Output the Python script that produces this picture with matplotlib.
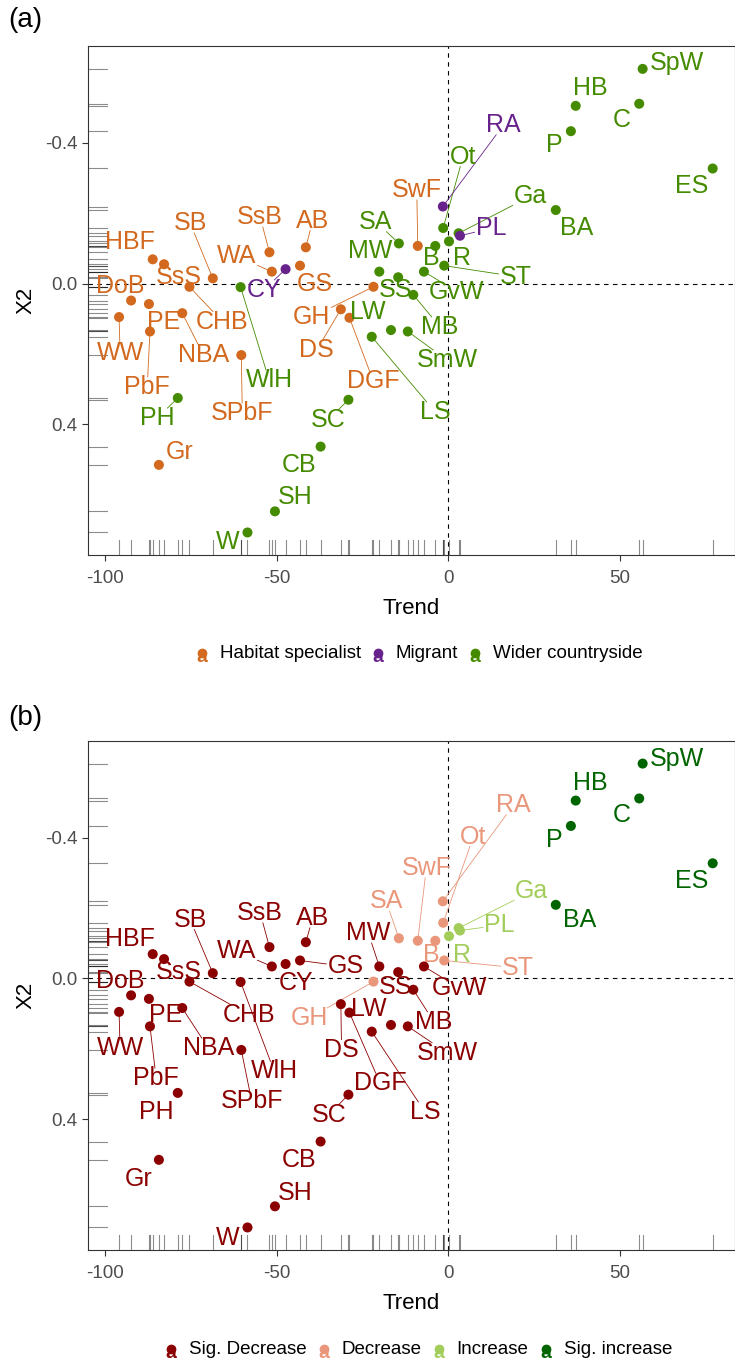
import matplotlib.pyplot as plt
from matplotlib.lines import Line2D

plt.rcParams['font.family'] = ['Liberation Sans', 'DejaVu Sans']
plt.rcParams['axes.unicode_minus'] = False

# species codes, trend, second axis score
species = ["HBF", "SsS", "SB", "CHB", "DoB", "PE", "WW", "PbF", "NBA", "SPbF",
           "PH", "Gr", "W", "SH", "CB", "SC", "SsB", "AB", "WA", "CY",
           "GS", "WlH", "DS", "DGF", "LS", "LW", "SmW", "GH", "SA", "MW",
           "SS", "MB", "GvW", "SwF", "B", "ST", "R", "Ot", "RA", "Ga",
           "PL", "BA", "P", "HB", "C", "SpW", "ES"]
trend = [-86.1, -82.8, -68.6, -75.4, -92.4, -87.2, -95.9, -86.9, -77.5, -60.3,
         -78.8, -84.3, -58.5, -50.5, -37.2, -29.1, -52.1, -41.5, -51.4, -47.4,
         -43.2, -60.5, -31.3, -28.8, -22.3, -16.7, -11.8, -21.8, -14.4, -20.1,
         -14.6, -10.2, -7.1, -8.9, -3.8, -1.2, 0.2, -1.5, -1.6, 3.0,
         3.4, 31.3, 35.7, 37.1, 55.6, 56.6, 77.0]
x2 = [-0.069, -0.055, -0.015, 0.009, 0.048, 0.058, 0.095, 0.136, 0.084, 0.203,
      0.325, 0.515, 0.707, 0.647, 0.463, 0.330, -0.089, -0.103, -0.034, -0.041,
      -0.051, 0.010, 0.073, 0.097, 0.151, 0.132, 0.136, 0.009, -0.114, -0.034,
      -0.018, 0.032, -0.034, -0.107, -0.107, -0.051, -0.120, -0.158, -0.219, -0.143,
      -0.136, -0.209, -0.433, -0.505, -0.511, -0.610, -0.327]

habitat = ["HBF", "SsS", "SB", "CHB", "DoB", "PE", "WW", "PbF", "NBA", "SPbF",
           "Gr", "SsB", "AB", "WA", "GS", "DS", "DGF", "GH", "SwF"]
migrant = ["CY", "RA", "PL"]
group = ["Habitat specialist" if s in habitat else "Migrant" if s in migrant
         else "Wider countryside" for s in species]

decrease = ["GH", "SA", "SwF", "B", "ST", "Ot", "RA"]
increase = ["R", "Ga", "PL"]
sig_increase = ["BA", "P", "HB", "C", "SpW", "ES"]
status = ["Decrease" if s in decrease else "Increase" if s in increase
          else "Sig. increase" if s in sig_increase else "Sig. Decrease" for s in species]

group_order = ["Habitat specialist", "Migrant", "Wider countryside"]
group_cols = {"Habitat specialist": "#D2691E", "Migrant": "#68228B",
              "Wider countryside": "#458B00"}
status_order = ["Sig. Decrease", "Decrease", "Increase", "Sig. increase"]
status_cols = {"Sig. Decrease": "#8B0000", "Decrease": "#E9967A",
               "Increase": "#A2CD5A", "Sig. increase": "#006400"}

# where the (repelled) labels sit, in data units
labels_a = {
    "HBF": (-92.6, -0.118), "SB": (-75.2, -0.172), "SsB": (-54.8, -0.189), "AB": (-39.5, -0.179),
    "WA": (-61.6, -0.077), "SsS": (-78.6, -0.020), "GS": (-38.9, 0.0), "CY": (-53.7, 0.018),
    "DoB": (-95.6, 0.006), "SA": (-21.1, -0.176), "MW": (-22.8, -0.094), "SS": (-15.3, 0.018),
    "SpW": (66.6, -0.626), "HB": (41.3, -0.555), "C": (50.5, -0.465), "P": (30.9, -0.394),
    "ES": (70.8, -0.276), "RA": (16.1, -0.451), "Ot": (4.3, -0.361), "SwF": (-9.2, -0.266),
    "Ga": (23.9, -0.248), "BA": (37.4, -0.157), "PL": (12.4, -0.157), "B": (-5.0, -0.072),
    "R": (4.1, -0.072), "ST": (19.6, -0.020), "GvW": (2.5, 0.023), "CHB": (-65.8, 0.108),
    "PE": (-82.8, 0.108), "WW": (-95.6, 0.198), "NBA": (-71.3, 0.203), "PbF": (-87.7, 0.293),
    "WlH": (-52.2, 0.274), "SPbF": (-60.0, 0.368), "PH": (-84.8, 0.382), "Gr": (-78.2, 0.479),
    "GH": (-39.8, 0.095), "LW": (-23.4, 0.081), "DS": (-38.3, 0.188), "DGF": (-21.8, 0.278),
    "SC": (-35.0, 0.387), "CB": (-43.5, 0.515), "SH": (-44.6, 0.605), "W": (-64.4, 0.735),
    "LS": (-3.9, 0.364), "MB": (-2.4, 0.123), "SmW": (-0.4, 0.217),
}
labels_b = {
    "SB": (-75.2, -0.167), "SsB": (-54.8, -0.186), "AB": (-39.5, -0.172), "HBF": (-92.6, -0.113),
    "WA": (-61.6, -0.077), "MW": (-23.3, -0.129), "GS": (-30.0, -0.034), "SsS": (-78.6, -0.018),
    "DoB": (-95.6, 0.0085), "CY": (-44.3, 0.013), "SA": (-18.1, -0.219), "SS": (-15.4, 0.023),
    "CHB": (-58.1, 0.103), "PE": (-82.3, 0.103), "GH": (-40.4, 0.112), "LW": (-23.3, 0.086),
    "WW": (-95.6, 0.198), "NBA": (-69.9, 0.198), "DS": (-31.1, 0.202), "WlH": (-50.7, 0.264),
    "PbF": (-85.1, 0.283), "DGF": (-19.9, 0.297), "SPbF": (-57.3, 0.347), "PH": (-85.1, 0.378),
    "SC": (-34.8, 0.387), "CB": (-43.6, 0.515), "Gr": (-90.1, 0.569), "SH": (-44.6, 0.610),
    "W": (-64.4, 0.737), "LS": (-6.8, 0.379), "SmW": (-0.4, 0.211), "MB": (-4.2, 0.123),
    "SpW": (66.6, -0.622), "HB": (41.3, -0.555), "C": (50.5, -0.465), "P": (30.9, -0.394),
    "ES": (70.8, -0.276), "RA": (19.0, -0.493), "Ot": (7.3, -0.403), "SwF": (-6.4, -0.314),
    "Ga": (24.3, -0.247), "BA": (38.2, -0.167), "PL": (14.8, -0.151), "B": (-5.0, -0.067),
    "R": (3.9, -0.067), "ST": (20.2, -0.030), "GvW": (3.2, 0.027),
}

W, H = 735, 1362
fig = plt.figure(figsize=(W / 100, H / 100), dpi=100)
ax_a = fig.add_axes([88 / W, 1 - 555 / H, (W - 88) / W, 509 / H])
ax_b = fig.add_axes([88 / W, 1 - 1250 / H, (W - 88) / W, 509.3 / H])


def setup(ax, cols, lab_pos):
    ax.set_xlim(-104.95, 83.5)
    ax.set_ylim(0.771, -0.675)
    ax.axvline(0, color="black", lw=0.8, ls=(0, (4, 4)), zorder=1)
    ax.axhline(0, color="black", lw=0.8, ls=(0, (4, 4)), zorder=1)
    for x in trend:
        ax.plot([x, x], [0, 0.03], transform=ax.get_xaxis_transform(),
                color="black", alpha=0.45, lw=0.8, zorder=1)
    for y in x2:
        ax.plot([0, 0.03], [y, y], transform=ax.get_yaxis_transform(),
                color="black", alpha=0.45, lw=0.8, zorder=1)
    ax.scatter(trend, x2, c=cols, s=52, linewidths=0, zorder=3)
    texts = []
    for s, c in zip(species, cols):
        lx, ly = lab_pos[s]
        t = ax.text(lx, ly, s, color=c, fontsize=18, ha="center", va="center", zorder=4)
        texts.append(t)
    ax.set_xticks([-100, -50, 0, 50])
    ax.set_yticks([-0.4, 0.0, 0.4])
    ax.set_yticklabels(["-0.4", "0.0", "0.4"])
    ax.tick_params(axis="both", length=4, width=0.8, color="#333333",
                   labelsize=13.5, labelcolor="#4D4D4D")
    ax.tick_params(axis="x", pad=6.5)
    ax.tick_params(axis="y", pad=3.5)
    for sp in ax.spines.values():
        sp.set_color("#333333")
        sp.set_linewidth(0.8)
    ax.set_xlabel("Trend", fontsize=16, labelpad=8)
    ax.set_ylabel("X2", fontsize=16, labelpad=6)
    return texts


cols_a = [group_cols[g] for g in group]
cols_b = [status_cols[s] for s in status]
texts_a = setup(ax_a, cols_a, labels_a)
texts_b = setup(ax_b, cols_b, labels_b)

fig.canvas.draw()
renderer = fig.canvas.get_renderer()


def add_segments(ax, texts, cols):
    inv = ax.transData.inverted()
    for x, y, t, c in zip(trend, x2, texts, cols):
        px, py = ax.transData.transform((x, y))
        bb = t.get_window_extent(renderer)
        cx, cy = (bb.x0 + bb.x1) / 2, (bb.y0 + bb.y1) / 2
        hw, hh = bb.width / 2 + 1, 10
        dx, dy = px - cx, py - cy
        if abs(dx) <= hw and abs(dy) <= hh:
            continue
        k = min(hw / abs(dx) if dx else 1e9, hh / abs(dy) if dy else 1e9)
        ex, ey = cx + dx * k, cy + dy * k
        if ((px - ex) ** 2 + (py - ey) ** 2) ** 0.5 < 14:
            continue
        (x0, y0), (x1, y1) = inv.transform([(px, py), (ex, ey)])
        ax.plot([x0, x1], [y0, y1], color=c, lw=0.6, zorder=2)


add_segments(ax_a, texts_a, cols_a)
add_segments(ax_b, texts_b, cols_b)


def add_legend(names, cols, x, y):
    for name in names:
        c = cols[name]
        fig.text(x / W, 1 - (y + 8) / H, "a", color=c, fontsize=14,
                 fontweight="bold", ha="center", va="baseline")
        fig.add_artist(Line2D([x / W], [1 - (y - 1) / H], marker="o", ms=6,
                              color=c, lw=0, transform=fig.transFigure))
        t = fig.text((x + 18) / W, 1 - y / H, name, fontsize=13.5, ha="left", va="center")
        x = x + 18 + t.get_window_extent(renderer).width + 17


add_legend(group_order, group_cols, 201.7, 654)
add_legend(status_order, status_cols, 171, 1350)

fig.text(8 / W, 1 - 20 / H, "(a)", fontsize=20, ha="left", va="center")
fig.text(8 / W, 1 - 718 / H, "(b)", fontsize=20, ha="left", va="center")

fig.savefig("out.png", dpi=100)
